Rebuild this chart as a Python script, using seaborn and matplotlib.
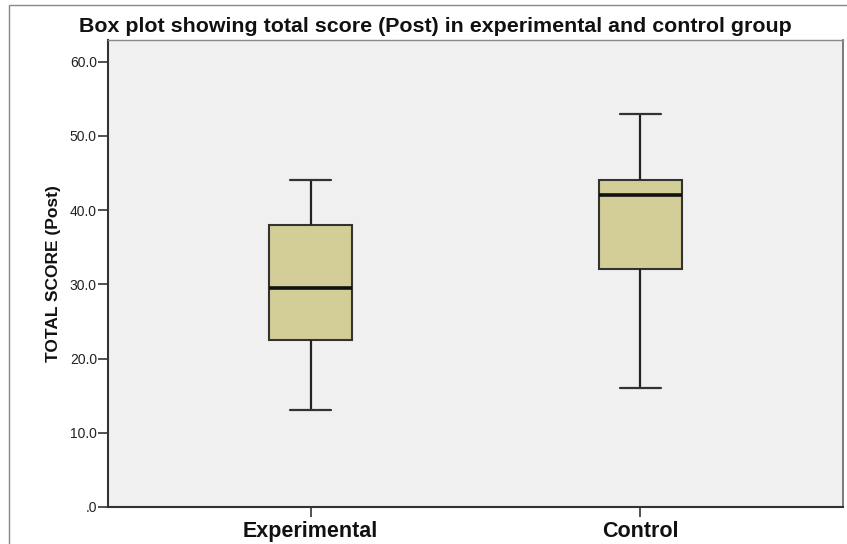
import matplotlib
matplotlib.use("Agg")
import matplotlib.pyplot as plt
import seaborn as sns
import pandas as pd
from matplotlib.patches import Rectangle

# Data (five-number summaries: min, Q1, median, Q3, max)
groups = ["Experimental", "Control"]
experimental_scores = [13.0, 22.5, 29.5, 38.0, 44.0]
control_scores = [16.0, 32.0, 42.0, 44.0, 53.0]
y_ticks = [0, 10, 20, 30, 40, 50, 60]
y_tick_labels = [".0", "10.0", "20.0", "30.0", "40.0", "50.0", "60.0"]

df = pd.DataFrame({
    "group": [groups[0]] * len(experimental_scores) + [groups[1]] * len(control_scores),
    "score": experimental_scores + control_scores,
})

sns.set_style("white")
plt.rcParams["font.family"] = ["Liberation Sans", "DejaVu Sans"]

W, H = 847, 544
fig = plt.figure(figsize=(W / 100, H / 100), dpi=100)
ax = fig.add_axes([108 / W, 1 - 507 / H, (843 - 108) / W, (507 - 40) / H])
ax.set_facecolor("#F0F0F0")

sns.boxplot(
    data=df, x="group", y="score", order=groups, ax=ax,
    width=0.25, color="#D3CE97", saturation=1, whis=1.5,
    linecolor="#222222", linewidth=1.5, fliersize=0,
    boxprops=dict(edgecolor="#333333", linewidth=1.5),
    medianprops=dict(color="#111111", linewidth=2.6),
    whiskerprops=dict(color="#222222", linewidth=1.6),
    capprops=dict(color="#333333", linewidth=1.6),
)

ax.set_xlim(-0.614, 1.614)
ax.set_ylim(0, 62.9)
ax.set_yticks(y_ticks)
ax.set_yticklabels(y_tick_labels)
ax.tick_params(axis="y", which="major", direction="out", length=7, width=1.2,
               color="#333333", labelsize=10, labelcolor="#222222", pad=1, left=True)
ax.tick_params(axis="x", which="major", direction="out", length=7, width=1.2,
               color="#333333", labelsize=15.5, labelcolor="#111111", pad=3, bottom=True)
for lab in ax.get_xticklabels():
    lab.set_fontweight("bold")

for side in ["left", "bottom", "right", "top"]:
    ax.spines[side].set_visible(True)
    ax.spines[side].set_color("#333333")
    ax.spines[side].set_linewidth(1.5)
ax.spines["top"].set_color("#888888")
ax.spines["top"].set_linewidth(1.0)
ax.spines["right"].set_color("#666666")
ax.spines["right"].set_linewidth(1.2)

ax.set_xlabel("")
ax.set_ylabel("TOTAL SCORE (Post)", fontsize=12.5, fontweight="bold", labelpad=6, color="#111111")
fig.text(435.5 / W, 1 - 27 / H, "Box plot showing total score (Post) in experimental and control group",
         ha="center", va="center", fontsize=15.4, fontweight="bold", color="#111111")

# outer frame of the exported chart
fig.add_artist(Rectangle((9 / W, -0.05), 1.0, 1 - 5 / H + 0.05, transform=fig.transFigure,
                         fill=False, edgecolor="#888888", linewidth=1.0))

fig.savefig("out.png", dpi=100, facecolor="white")
